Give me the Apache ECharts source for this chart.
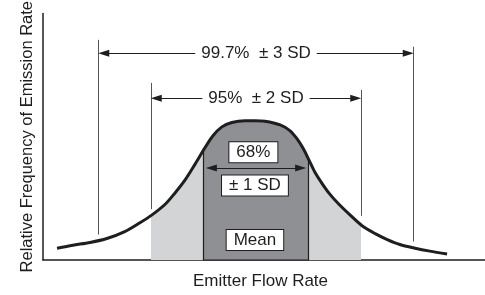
<!DOCTYPE html>
<html>
<head>
<meta charset="utf-8">
<script src="https://cdn.jsdelivr.net/npm/echarts@6/dist/echarts.min.js"></script>
<style>
  html, body { margin: 0; padding: 0; background: #fff; }
  #chart { width: 485px; height: 295px; }
</style>
</head>
<body>
<div id="chart"></div>
<script>
// bell curve: x in SD from the mean, y relative frequency (axis top = 1)
const flowSd = [-3.79, -3.49, -3.16, -2.84, -2.50, -2.21, -1.98, -1.73, -1.55, -1.35,
  -1.16, -0.97, -0.82, -0.65, -0.46, -0.21, -0.02, 0.17, 0.46, 0.65,
  0.78, 0.90, 1.01, 1.12, 1.26, 1.41, 1.58, 1.79, 2.02, 2.27,
  2.50, 2.74, 3.03, 3.31, 3.64]
const relFreq = [0.048, 0.060, 0.071, 0.087, 0.115, 0.151, 0.183, 0.226, 0.270, 0.325,
  0.389, 0.456, 0.504, 0.540, 0.558, 0.565, 0.565, 0.563, 0.548, 0.524,
  0.492, 0.452, 0.405, 0.357, 0.310, 0.266, 0.226, 0.183, 0.139, 0.107,
  0.083, 0.063, 0.048, 0.036, 0.024]

const sdLevels = [1, 2, 3]
const bandLabels = ['68%', '95%', '99.7%']

const ink = '#1e1e1e'
const guide = '#555'
const font = 'Liberation Sans, Arial, sans-serif'

const chart = echarts.init(document.getElementById('chart'))

const arrow = (x, y, text) => [
  {
    coord: [-x, y], symbol: 'triangle', symbolSize: [7, 11],
    lineStyle: { color: ink, width: 1.2, type: 'solid' },
    label: text ? {
      show: true, position: 'insideMiddle', distance: 0, formatter: text,
      color: ink, fontSize: 17, fontFamily: font,
      backgroundColor: '#fff', padding: [0, 6]
    } : { show: false }
  },
  { coord: [x, y], symbol: 'triangle', symbolSize: [7, 11] }
]

const vline = (x, y1, y2) => [
  { coord: [x, y1], lineStyle: { color: guide, width: 1, type: 'solid' }, label: { show: false } },
  { coord: [x, y2] }
]

const option = {
  animation: false,
  grid: { left: 43, right: 0, top: 12, bottom: 31 },
  xAxis: {
    type: 'value',
    min: -4.057,
    max: 4.362,
    name: 'Emitter Flow Rate',
    nameLocation: 'middle',
    nameGap: 13,
    nameTextStyle: { color: ink, fontSize: 17, fontFamily: font, padding: [0, 7, 0, 0] },
    axisLine: { onZero: false, lineStyle: { color: ink, width: 1.5 } },
    axisTick: { show: false },
    axisLabel: { show: false },
    splitLine: { show: false }
  },
  yAxis: {
    type: 'value',
    min: 0,
    max: 1,
    name: 'Relative Frequency of Emission Rate',
    nameLocation: 'middle',
    nameGap: 7,
    nameTextStyle: { color: ink, fontSize: 16.5, fontFamily: font },
    axisLine: { show: true, onZero: false, lineStyle: { color: ink, width: 1.5 } },
    axisTick: { show: false },
    axisLabel: { show: false },
    splitLine: { show: false }
  },
  series: [
    {
      // shaded SD bands, masked above the curve by the next series
      type: 'line',
      z: 1,
      data: [],
      markArea: {
        silent: true,
        label: { show: false },
        data: [
          [{ xAxis: -sdLevels[1], yAxis: 0, itemStyle: { color: '#d3d4d6' } }, { xAxis: sdLevels[1], yAxis: 0.8 }],
          [{ xAxis: -sdLevels[0], yAxis: 0, itemStyle: { color: '#8f9093', borderColor: ink, borderWidth: 1.2 } }, { xAxis: sdLevels[0], yAxis: 0.8 }]
        ]
      }
    },
    {
      type: 'line',
      z: 3,
      smooth: 0.3,
      symbol: 'none',
      data: flowSd.map((x, i) => [x, relFreq[i]]),
      lineStyle: { color: ink, width: 3 },
      areaStyle: { color: '#fff', opacity: 1, origin: 'end' }
    },
    {
      type: 'line',
      z: 4,
      data: [],
      markLine: {
        silent: true,
        symbol: ['none', 'none'],
        lineStyle: { color: guide, width: 1, type: 'solid' },
        label: { show: false },
        data: [
          vline(-sdLevels[2], 0.893, 0.103),
          vline(sdLevels[2], 0.865, 0.075),
          vline(-sdLevels[1], 0.718, 0.206),
          vline(sdLevels[1], 0.690, 0.179),
          arrow(2.9, 0.839, bandLabels[2] + '  \u00b1 3 SD'),
          arrow(1.9, 0.656, bandLabels[1] + '  \u00b1 2 SD'),
          arrow(0.85, 0.373, null)
        ]
      },
      markPoint: {
        silent: true,
        symbol: 'rect',
        symbolSize: 1,
        itemStyle: { color: 'rgba(0,0,0,0)' },
        label: {
          show: true,
          position: 'inside',
          formatter: '{b}',
          color: ink,
          fontSize: 17,
          fontFamily: font,
          lineHeight: 17,
          backgroundColor: '#fff',
          borderColor: ink,
          borderWidth: 1,
          padding: [2, 7, 1, 7]
        },
        data: [
          { name: bandLabels[0], coord: [-0.05, 0.437] },
          { name: '\u00b1 1 SD', coord: [-0.02, 0.302] },
          { name: 'Mean', coord: [-0.02, 0.081] }
        ]
      }
    }
  ]
}

chart.setOption(option)
</script>
</body>
</html>
